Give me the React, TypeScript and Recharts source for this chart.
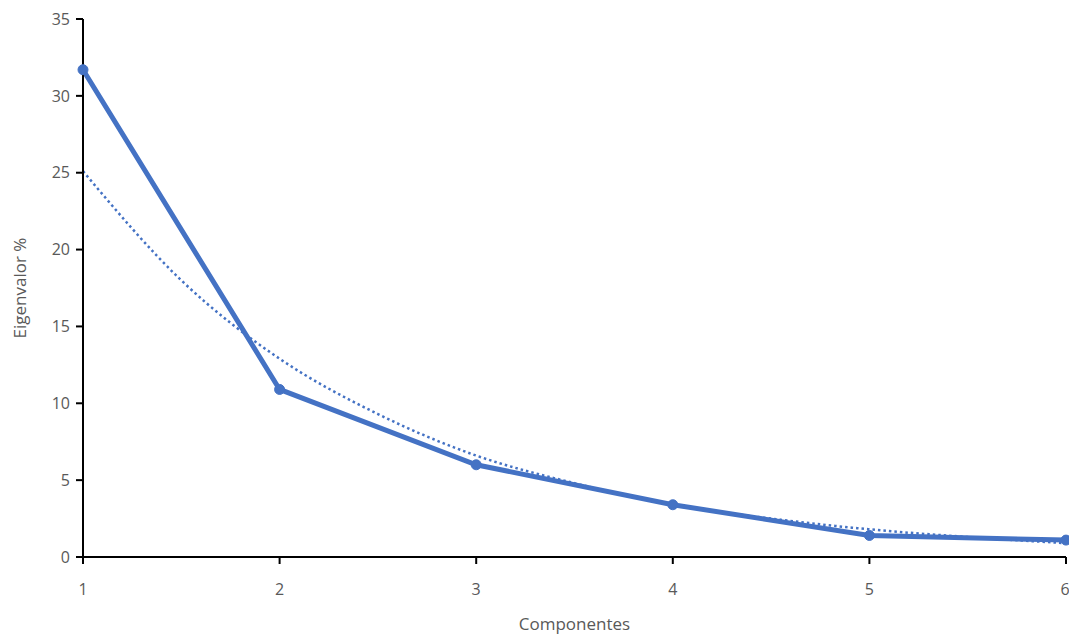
import { LineChart, Line, XAxis, YAxis } from "recharts";

// componentes y eigenvalores
const componentes = [1, 2, 3, 4, 5, 6];
const eigenvalores = [31.7, 10.9, 6.0, 3.4, 1.4, 1.1];

// línea de tendencia (punteada), leída cada medio componente
const tendenciaX = [1, 1.5, 2, 2.5, 3, 3.5, 4, 4.5, 5, 5.5, 6];
const tendenciaY = [25.1, 18.0, 12.9, 9.3, 6.6, 4.8, 3.4, 2.5, 1.8, 1.3, 0.9];

const yTicks = [0, 5, 10, 15, 20, 25, 30, 35];

const serie = componentes.map((x, i) => ({ x, v: eigenvalores[i] }));
const tendencia = tendenciaX.map((x, i) => ({ x, t: tendenciaY[i] }));

const azul = "#4472C4";
const tickStyle = { fill: "#595959", fontSize: 16, fontFamily: "Open Sans, sans-serif" };

export default function App() {
  return (
    <div style={{ position: "absolute", left: 0, top: 0, background: "#fff" }}>
      <LineChart width={1069} height={634} margin={{ top: 19, right: 3, left: 0, bottom: 0 }}>
        <XAxis
          type="number"
          dataKey="x"
          domain={[1, 6]}
          ticks={componentes}
          allowDuplicatedCategory={false}
          height={77}
          stroke="#000"
          strokeWidth={2}
          tickSize={7}
          tick={tickStyle}
          tickMargin={20}
          label={{ value: "Componentes", position: "insideBottom", offset: 4, style: { ...tickStyle, fontSize: 17 } }}
        />
        <YAxis
          type="number"
          domain={[0, 35]}
          ticks={yTicks}
          width={83}
          stroke="#000"
          strokeWidth={2}
          tickSize={7}
          tick={tickStyle}
          tickMargin={6}
          label={{ value: "Eigenvalor %", angle: -90, position: "insideLeft", offset: 20, style: { ...tickStyle, fontSize: 17, textAnchor: "middle" } }}
        />
        <Line
          data={tendencia}
          dataKey="t"
          type="monotone"
          stroke={azul}
          strokeWidth={2.5}
          strokeDasharray="2.5 3"
          dot={false}
          isAnimationActive={false}
        />
        <Line
          data={serie}
          dataKey="v"
          type="linear"
          stroke={azul}
          strokeWidth={5}
          dot={{ r: 5, fill: azul, stroke: azul, strokeWidth: 1 }}
          isAnimationActive={false}
        />
      </LineChart>
    </div>
  );
}
